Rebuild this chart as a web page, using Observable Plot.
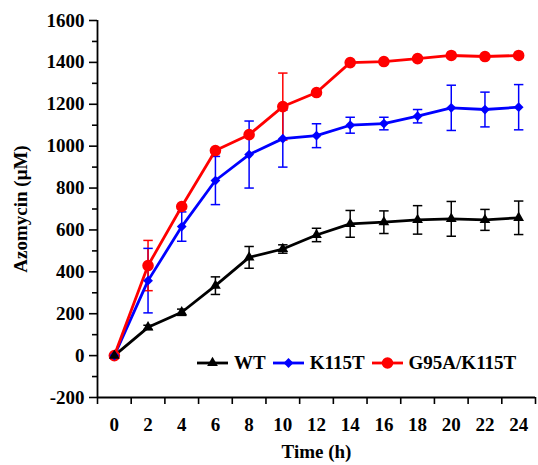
<!DOCTYPE html>
<html>
<head>
<meta charset="utf-8">
<script src="https://cdn.jsdelivr.net/npm/d3@7"></script>
<script src="https://cdn.jsdelivr.net/npm/@observablehq/plot@0.6"></script>
<style>
  html, body { margin: 0; padding: 0; background: white; }
  #wrap { position: relative; width: 538px; height: 465px; }
  #legend { position: absolute; left: 197px; top: 352px; display: flex; align-items: center;
    font-family: "Liberation Serif", "Times New Roman", serif; font-weight: bold; font-size: 19px; color: black; }
  #legend .item { display: flex; align-items: center; margin-right: 7px; }
  #legend svg { margin-right: 6px; }
</style>
</head>
<body>
<div id="wrap"></div>
<script>
const hours = [0, 2, 4, 6, 8, 10, 12, 14, 16, 18, 20, 22, 24];
const seriesNames = ["WT", "K115T", "G95A/K115T"];
const seriesColors = ["#000000", "#0000ff", "#ff0000"];
const seriesSymbols = ["triangle", "diamond2", "circle"];
const wt =        [0, 135, 207, 334, 469, 509, 576, 629, 637, 648, 653, 648, 658];
const wtErr =     [0, 10, 15, 42, 52, 20, 32, 64, 54, 68, 83, 50, 80];
const k115t =     [0, 358, 616, 836, 960, 1036, 1050, 1100, 1108, 1143, 1183, 1175, 1186];
const k115tErr =  [0, 154, 70, 115, 160, 136, 57, 38, 30, 32, 108, 83, 108];
const g95a =      [0, 430, 712, 979, 1055, 1189, 1256, 1399, 1404, 1418, 1433, 1428, 1433];
const g95aErr =   [0, 120, 8, 8, 8, 160, 6, 6, 6, 6, 6, 6, 6];
const yTicksMajor = [-200, 0, 200, 400, 600, 800, 1000, 1200, 1400, 1600];
const yTicksMinor = [-100, 100, 300, 500, 700, 900, 1100, 1300, 1500];
const xTicksMinor = [-1, 1, 3, 5, 7, 9, 11, 13, 15, 17, 19, 21, 23, 25];

const values = [wt, k115t, g95a];
const errs = [wtErr, k115tErr, g95aErr];
const data = seriesNames.flatMap((name, s) => hours.map((h, i) => ({
  name, x: h, y: values[s][i], lo: values[s][i] - errs[s][i], hi: values[s][i] + errs[s][i]
})));

const xDomain = [xTicksMinor[0], xTicksMinor[xTicksMinor.length - 1]];
const yDomain = [yTicksMajor[0], yTicksMajor[yTicksMajor.length - 1]];
const capHalf = 0.28;
const sizes = {"WT": 4.0, "K115T": 4.4, "G95A/K115T": 5.8};

const chart = Plot.plot({
  width: 538, height: 465,
  marginLeft: 97, marginRight: 3, marginTop: 20, marginBottom: 68,
  style: { fontFamily: "'Liberation Serif', 'Times New Roman', serif", fontWeight: "bold", fontSize: "19px", color: "black", background: "white" },
  x: { domain: xDomain },
  y: { domain: yDomain },
  r: { type: "identity" },
  color: { domain: seriesNames, range: seriesColors },
  symbol: { domain: seriesNames, range: seriesSymbols },
  marks: [
    Plot.axisY({ ticks: yTicksMajor, tickSize: 8, tickPadding: 5, strokeWidth: 1.6, tickFormat: d => String(d),
      label: "Azomycin (μM)", labelAnchor: "center", labelOffset: 84, labelArrow: false }),
    Plot.axisY({ ticks: yTicksMinor, tickSize: 5, strokeWidth: 1.6, tickFormat: () => "", label: null }),
    Plot.axisX({ ticks: xTicksMinor, tickSize: 7, strokeWidth: 1.6, tickFormat: () => "", label: null }),
    Plot.axisX({ ticks: hours, tickSize: 0, tickPadding: 20, tickFormat: d => String(d),
      label: "Time (h)", labelAnchor: "center", labelOffset: 60, labelArrow: false }),
    Plot.ruleX([xDomain[0]], { strokeWidth: 1.8 }),
    Plot.ruleY([yDomain[0]], { strokeWidth: 1.8 }),
    Plot.link(data, { x1: "x", x2: "x", y1: "lo", y2: "hi", stroke: "name", strokeWidth: 1.5 }),
    Plot.link(data, { x1: d => d.x - capHalf, x2: d => d.x + capHalf, y1: "lo", y2: "lo", stroke: "name", strokeWidth: 1.5 }),
    Plot.link(data, { x1: d => d.x - capHalf, x2: d => d.x + capHalf, y1: "hi", y2: "hi", stroke: "name", strokeWidth: 1.5 }),
    Plot.line(data, { x: "x", y: "y", z: "name", stroke: "name", strokeWidth: 2.8 }),
    Plot.dot(data, { x: "x", y: "y", fill: "name", symbol: "name", r: d => sizes[d.name], stroke: null })
  ]
});
const wrap = document.getElementById("wrap");
wrap.appendChild(chart);

// legend
const legend = document.createElement("div");
legend.id = "legend";
seriesNames.forEach((name, i) => {
  const item = document.createElement("div");
  item.className = "item";
  const svg = d3.create("svg").attr("width", 31).attr("height", 14);
  svg.append("line").attr("x1", 0).attr("x2", 31).attr("y1", 7).attr("y2", 7)
    .attr("stroke", seriesColors[i]).attr("stroke-width", 2.8);
  const sym = {triangle: d3.symbolTriangle, diamond2: d3.symbolDiamond2, circle: d3.symbolCircle}[seriesSymbols[i]];
  const r = sizes[name];
  svg.append("path").attr("transform", "translate(15.5,7)")
    .attr("d", d3.symbol(sym, r * r * Math.PI)()).attr("fill", seriesColors[i]);
  item.appendChild(svg.node());
  const span = document.createElement("span");
  span.textContent = name;
  item.appendChild(span);
  legend.appendChild(item);
});
wrap.appendChild(legend);
</script>
</body>
</html>
